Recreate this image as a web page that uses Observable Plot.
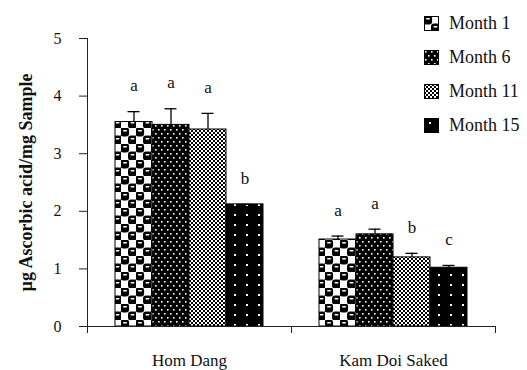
<!DOCTYPE html>
<html><head><meta charset="utf-8">
<script src="https://cdn.jsdelivr.net/npm/d3@7"></script>
<script src="https://cdn.jsdelivr.net/npm/@observablehq/plot@0.6"></script>
<style>
body{margin:0;background:#fff;}
#wrap{position:relative;width:527px;height:370px;}
#legend{position:absolute;left:424px;top:6px;font-family:"Liberation Serif","Times New Roman",serif;font-size:18px;color:#111;}
.row{display:flex;align-items:center;height:34px;}
.row svg{margin-right:10px;display:block}
</style></head><body><div id="wrap"><div id="legend"></div></div>
<script>
const cats = ["Hom Dang", "Kam Doi Saked"];
const months = ["Month 1", "Month 6", "Month 11", "Month 15"];
const homDang = [3.55, 3.50, 3.42, 2.12];
const homDangErr = [0.18, 0.28, 0.28, 0];
const kamDoi = [1.51, 1.60, 1.20, 1.02];
const kamDoiErr = [0.06, 0.09, 0.07, 0.04];
const homDangLetters = ["a", "a", "a", "b"];
const kamDoiLetters = ["a", "a", "b", "c"];
const yTicks = [0, 1, 2, 3, 4, 5];
const yTitle = "µg Ascorbic acid/mg Sample";

const values = [homDang, kamDoi], errs = [homDangErr, kamDoiErr], letters = [homDangLetters, kamDoiLetters];
const data = cats.flatMap((c, ci) => months.map((m, mi) => ({
  cat: c, month: m, value: values[ci][mi], err: errs[ci][mi], letter: letters[ci][mi]
})));
const fills = ["url(#p1)", "url(#p2)", "url(#p3)", "url(#p4)"];
const serif = "'Liberation Serif', 'Times New Roman', serif";

const chart = Plot.plot({
  width: 527, height: 370,
  marginLeft: 86, marginRight: 32, marginTop: 38, marginBottom: 44,
  style: {fontFamily: serif, fontSize: "16px", color: "#111", background: "white"},
  fx: {domain: cats, padding: 0},
  x: {domain: months, paddingInner: 0, paddingOuter: 0.72, axis: null},
  y: {domain: [0, 5]},
  color: {domain: months, range: fills},
  marks: [
    Plot.barY(data, {fx: "cat", x: "month", y: "value", fill: "month", stroke: "black", strokeWidth: 1}),
    Plot.ruleX(data, {fx: "cat", x: "month", y1: "value", y2: d => d.value + d.err, stroke: "black", strokeWidth: 1.3}),
    Plot.tickY(data, {fx: "cat", x: "month", y: d => d.value + d.err, stroke: "black", strokeWidth: 1.3, insetLeft: 12.5, insetRight: 12.5}),
    Plot.text(data, {fx: "cat", x: "month", y: d => d.value + d.err, text: "letter", dy: -26, fontSize: 17, fill: "#111"}),
    Plot.ruleY([0], {stroke: "#222", strokeWidth: 1}),
    Plot.axisY({ticks: yTicks, tickFormat: d => String(d), tickSize: 8, tickPadding: 18, fontSize: 16, label: null, stroke: "#222"}),
    Plot.axisY({ticks: [], label: yTitle, labelAnchor: "center", labelOffset: 68, labelArrow: false, fontSize: 18, fontWeight: "bold"}),
    Plot.axisFx({anchor: "bottom", tickSize: 0, tickPadding: 27, fontSize: 17, label: null})
  ]
});

const defs = d3.select(chart).insert("defs", ":first-child");
defs.html(`
<pattern id="p1" patternUnits="userSpaceOnUse" width="15" height="16">
  <rect width="15" height="16" fill="white"/>
  <rect x="-0.5" y="-0.5" width="8.6" height="9" rx="3" fill="black"/>
  <rect x="2.2" y="2" width="3.6" height="1.5" fill="white"/>
  <rect x="7" y="7.5" width="8.6" height="9" rx="3" fill="black"/>
  <rect x="9.7" y="10" width="3.6" height="1.5" fill="white"/>
  <rect x="14" y="7.5" width="1" height="1" fill="black"/>
</pattern>
<pattern id="p2" patternUnits="userSpaceOnUse" width="6" height="8">
  <rect width="6" height="8" fill="black"/>
  <rect x="1" y="1" width="1.6" height="1.6" fill="white"/>
  <rect x="4" y="5" width="1.6" height="1.6" fill="white"/>
</pattern>
<pattern id="p3" patternUnits="userSpaceOnUse" width="4" height="4">
  <rect width="4" height="4" fill="white"/>
  <rect x="0" y="0" width="2" height="2" fill="black"/>
  <rect x="2" y="2" width="2" height="2" fill="black"/>
</pattern>
<pattern id="p4" patternUnits="userSpaceOnUse" width="12" height="10">
  <rect width="12" height="10" fill="black"/>
  <rect x="5" y="4" width="2" height="2" fill="white"/>
</pattern>`);

// category boundary ticks and the y axis line, drawn with the chart's own scales
const fx = chart.scale("fx"), ys = chart.scale("y");
const y0 = ys.apply(0), y5 = ys.apply(5);
const edges = [fx.apply(cats[0]), ...cats.map(c => fx.apply(c) + fx.bandwidth)];
const g = d3.select(chart).append("g").attr("stroke", "#222").attr("stroke-width", 1);
g.append("line").attr("x1", edges[0] + 0.5).attr("x2", edges[0] + 0.5).attr("y1", y5).attr("y2", y0);
edges.forEach(e => g.append("line").attr("x1", e + 0.5).attr("x2", e + 0.5).attr("y1", y0).attr("y2", y0 + 7));

document.getElementById("wrap").prepend(chart);

// legend from the chart's color scale
const color = chart.scale("color");
const leg = d3.select("#legend");
months.forEach(m => {
  const row = leg.append("div").attr("class", "row");
  const s = row.append("svg").attr("width", 15).attr("height", 15);
  s.append("rect").attr("x", 0.5).attr("y", 0.5).attr("width", 14).attr("height", 14)
    .attr("fill", color.apply(m)).attr("stroke", "black");
  row.append("span").text(m);
});
</script></body></html>
